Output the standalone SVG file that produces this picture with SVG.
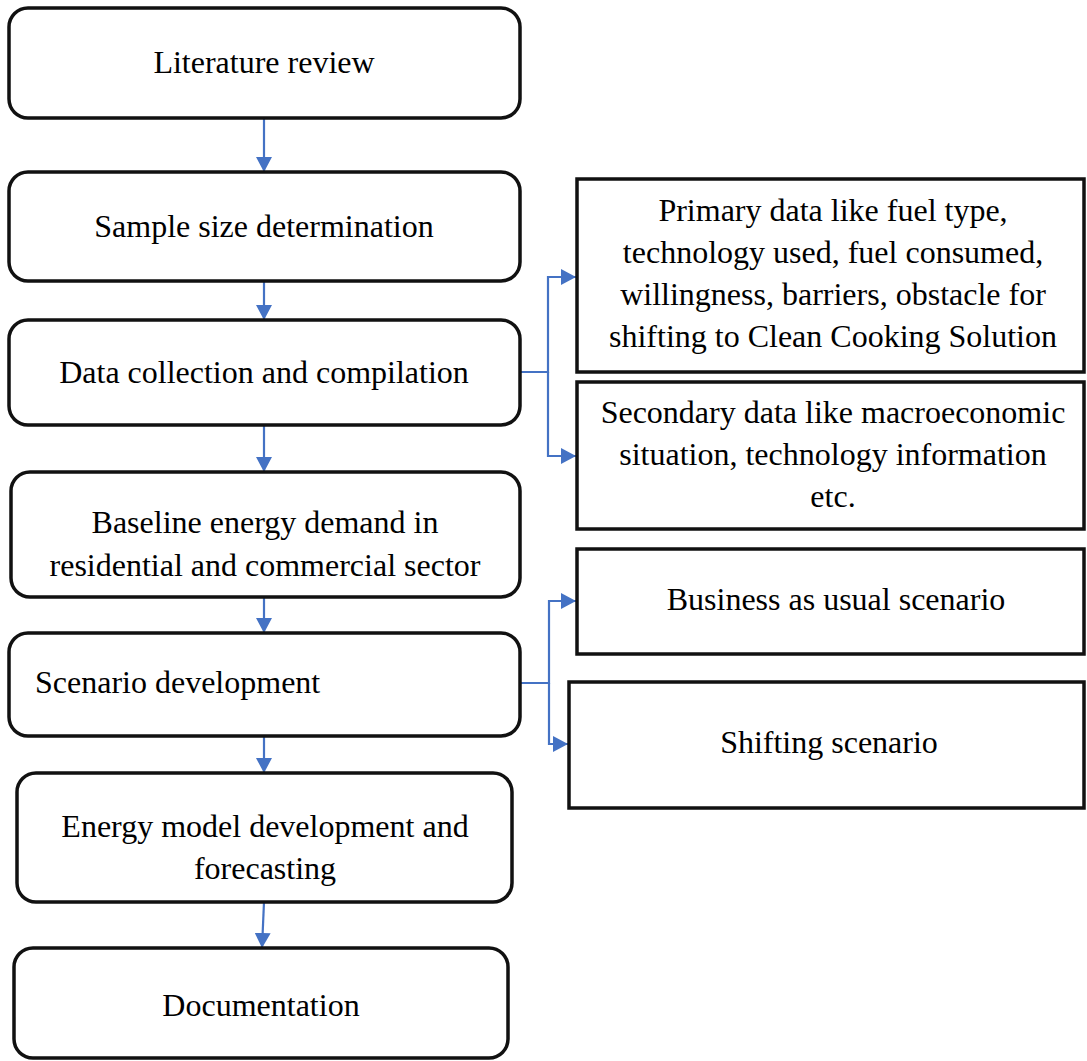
<svg xmlns="http://www.w3.org/2000/svg" width="1087" height="1061" viewBox="0 0 1087 1061">
<defs>
<style>
.rbox{fill:#fff;stroke:#111;stroke-width:3.5}
.sbox{fill:#fff;stroke:#111;stroke-width:3.5}
.t{font-family:"Liberation Serif","Times New Roman",serif;font-size:32px;fill:#000}
.m{text-anchor:middle}
.c{fill:none;stroke:#4472C4;stroke-width:2.2}
</style>
<marker id="ah" markerUnits="userSpaceOnUse" markerWidth="15" markerHeight="16" refX="15" refY="8" orient="auto">
<path d="M0,0 L15,8 L0,16 z" fill="#4472C4"/>
</marker>
</defs>
<rect width="1087" height="1061" fill="#fff"/>

<g id="connectors">
<path class="c" d="M264,118 V172" marker-end="url(#ah)"/>
<path class="c" d="M264,281 V320" marker-end="url(#ah)"/>
<path class="c" d="M264,425 V472" marker-end="url(#ah)"/>
<path class="c" d="M264,597 V633" marker-end="url(#ah)"/>
<path class="c" d="M264,736 V773" marker-end="url(#ah)"/>
<path class="c" d="M264,902 L262,948" marker-end="url(#ah)"/>
<path class="c" d="M520,372 H548 V277 H576" marker-end="url(#ah)"/>
<path class="c" d="M548,372 V456 H576" marker-end="url(#ah)"/>
<path class="c" d="M520,683 H549 V601 H576" marker-end="url(#ah)"/>
<path class="c" d="M549,683 V744 H568" marker-end="url(#ah)"/>
</g>

<g id="n1">
<rect class="rbox" x="9" y="8" width="511" height="110" rx="19"/>
<text class="t m" x="264" y="73">Literature review</text>
</g>
<g id="n2">
<rect class="rbox" x="9" y="172" width="511" height="109" rx="19"/>
<text class="t m" x="264" y="237">Sample size determination</text>
</g>
<g id="n3">
<rect class="rbox" x="9" y="320" width="511" height="105" rx="19"/>
<text class="t m" x="264" y="383">Data collection and compilation</text>
</g>
<g id="n4">
<rect class="rbox" x="11" y="472" width="509" height="125" rx="19"/>
<text class="t m" x="265" y="533">Baseline energy demand in</text>
<text class="t m" x="265" y="576">residential and commercial sector</text>
</g>
<g id="n5">
<rect class="rbox" x="9" y="633" width="511" height="103" rx="19"/>
<text class="t" x="35" y="693">Scenario development</text>
</g>
<g id="n6">
<rect class="rbox" x="17" y="773" width="495" height="129" rx="19"/>
<text class="t m" x="265" y="837">Energy model development and</text>
<text class="t m" x="265" y="879">forecasting</text>
</g>
<g id="n7">
<rect class="rbox" x="14" y="948" width="494" height="110" rx="19"/>
<text class="t m" x="261" y="1016">Documentation</text>
</g>

<g id="r1">
<rect class="sbox" x="577" y="179" width="507" height="193"/>
<text class="t m" x="833" y="221">Primary data like fuel type,</text>
<text class="t m" x="833" y="263">technology used, fuel consumed,</text>
<text class="t m" x="833" y="305">willingness, barriers, obstacle for</text>
<text class="t m" x="833" y="347">shifting to Clean Cooking Solution</text>
</g>
<g id="r2">
<rect class="sbox" x="577" y="382" width="507" height="147"/>
<text class="t m" x="833" y="423">Secondary data like macroeconomic</text>
<text class="t m" x="833" y="465">situation, technology information</text>
<text class="t m" x="833" y="507">etc.</text>
</g>
<g id="r3">
<rect class="sbox" x="577" y="549" width="507" height="105"/>
<text class="t m" x="836" y="610">Business as usual scenario</text>
</g>
<g id="r4">
<rect class="sbox" x="569" y="682" width="515" height="126"/>
<text class="t m" x="829" y="753">Shifting scenario</text>
</g>
</svg>
